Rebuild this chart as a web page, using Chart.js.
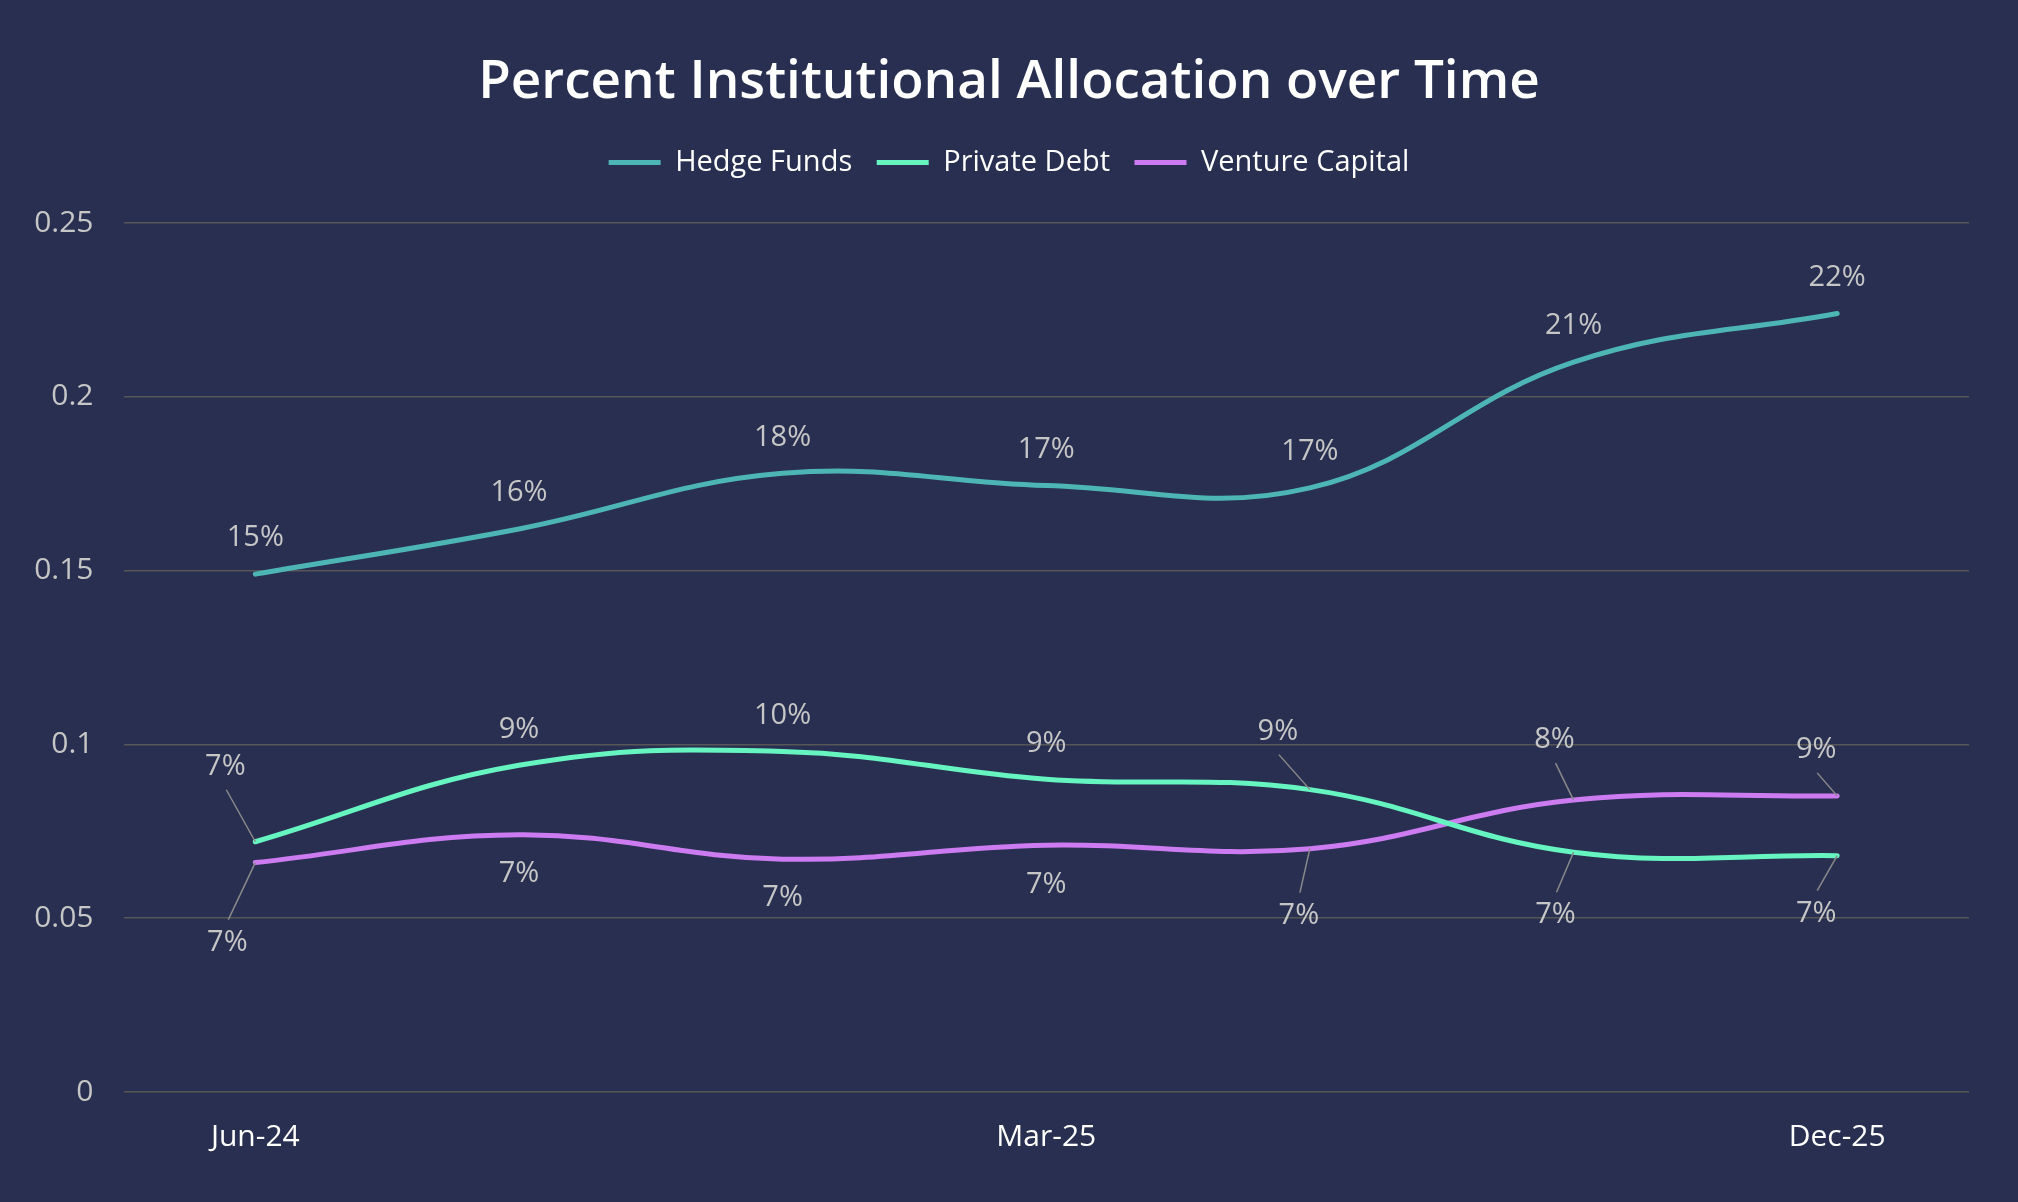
<!DOCTYPE html>
<html>
<head>
<meta charset="utf-8">
<title>Percent Institutional Allocation over Time</title>
<script src="https://cdn.jsdelivr.net/npm/chart.js@4.4.1/dist/chart.umd.min.js"></script>
<style>
	html, body { margin: 0; padding: 0; background: #292f51; }
	#wrap { width: 2018px; height: 1202px; }
</style>
</head>
<body>
<div id="wrap"><canvas id="allocation-chart" width="2018" height="1202"></canvas></div>
<script>
// values
var quarters = ["Jun-24", "Sep-24", "Dec-24", "Mar-25", "Jun-25", "Sep-25", "Dec-25"];
var hedgeFunds = [0.149, 0.162, 0.178, 0.1745, 0.1738, 0.210, 0.224];
var privateDebt = [0.072, 0.094, 0.098, 0.090, 0.087, 0.069, 0.068];
var ventureCapital = [0.066, 0.074, 0.067, 0.071, 0.070, 0.084, 0.0852];
var yTicks = [0, 0.05, 0.1, 0.15, 0.2, 0.25];

// where each value label sits relative to its point: [dx, dy, leader line?]
var labelSpots = [
	[[0, -36], [0, -36], [0, -36], [0, -36], [0, -36], [0, -36], [0, -36]],
	[[-30, -75, 1], [0, -36], [0, -36], [0, -35], [-32, -58, 1], [-18, 63, 1], [-21, 58, 1]],
	[[-28, 80, 1], [0, 39], [0, 39], [0, 40], [-11, 67, 1], [-19, -60, 1], [-21, -46, 1]]
];

var fontName = '"Open Sans", "Segoe UI", sans-serif';

var legendSpacer = {
	id: 'legendSpacer',
	beforeInit: function(chart) {
		var fit = chart.legend.fit;
		chart.legend.fit = function() {
			fit.call(this);
			this.height += 36;
		};
	}
};

var pctLabels = {
	id: 'pctLabels',
	afterDatasetsDraw: function(chart) {
		var ctx = chart.ctx;
		ctx.save();
		ctx.font = '29px ' + fontName;
		ctx.textAlign = 'center';
		ctx.textBaseline = 'middle';
		chart.data.datasets.forEach(function(ds, i) {
			var meta = chart.getDatasetMeta(i);
			meta.data.forEach(function(pt, j) {
				var s = labelSpots[i][j];
				var lx = pt.x + s[0];
				var ly = pt.y + s[1];
				if (s[2]) {
					ctx.strokeStyle = '#8a8a8a';
					ctx.lineWidth = 1.5;
					ctx.beginPath();
					ctx.moveTo(pt.x, pt.y);
					ctx.lineTo(lx + 1, ly - (s[1] < 0 ? -23 : 23));
					ctx.stroke();
				}
				ctx.fillStyle = '#c6c6c6';
				ctx.fillText(Math.round(ds.data[j] * 100) + '%', lx, ly);
			});
		});
		ctx.restore();
	}
};

var ctx = document.getElementById("allocation-chart").getContext('2d');
var allocationChart = new Chart(ctx, {
	type: 'line',
	data: {
		labels: quarters,
		datasets: [{
			label: 'Hedge Funds',
			data: hedgeFunds,
			borderColor: '#4db6b4',
			backgroundColor: '#4db6b4',
			borderWidth: 5
		}, {
			label: 'Private Debt',
			data: privateDebt,
			borderColor: '#66f5c0',
			backgroundColor: '#66f5c0',
			borderWidth: 5
		}, {
			label: 'Venture Capital',
			data: ventureCapital,
			borderColor: '#cc7bf0',
			backgroundColor: '#cc7bf0',
			borderWidth: 5
		}]
	},
	options: {
		responsive: false,
		animation: false,
		layout: {
			padding: { top: 0, left: 30, right: 30, bottom: 20 }
		},
		elements: {
			line: { tension: 0.4, borderCapStyle: 'round', fill: false },
			point: { radius: 0, hoverRadius: 0 }
		},
		plugins: {
			title: {
				display: true,
				text: 'Percent Institutional Allocation over Time',
				color: '#ffffff',
				font: { family: fontName, size: 53, weight: '600' },
				padding: { top: 51, bottom: 9 }
			},
			legend: {
				display: true,
				position: 'top',
				labels: {
					color: '#ffffff',
					font: { family: fontName, size: 29 },
					usePointStyle: true,
					pointStyle: 'line',
					pointStyleWidth: 52,
					padding: 24.5
				}
			},
			tooltip: { enabled: false }
		},
		scales: {
			x: {
				type: 'category',
				offset: true,
				grid: { display: false, drawTicks: false },
				border: { display: false },
				ticks: {
					color: '#ffffff',
					font: { family: fontName, size: 30 },
					padding: 27,
					autoSkip: false,
					maxRotation: 0,
					callback: function(value, index) {
						return index % 3 === 0 ? quarters[index] : '';
					}
				}
			},
			y: {
				min: yTicks[0],
				max: yTicks[yTicks.length - 1],
				afterBuildTicks: function(scale) {
					scale.ticks = yTicks.map(function(v) { return { value: v }; });
				},
				afterFit: function(scale) {
					scale.width = 93.5;
				},
				grid: { color: '#575757', lineWidth: 1.5, drawTicks: false },
				border: { display: false },
				ticks: {
					color: '#c6c6c6',
					font: { family: fontName, size: 30 },
					padding: 30,
					callback: function(value) {
						return String(+value.toFixed(2));
					}
				}
			},
			// empty right margin so title and legend stay centred on the page
			yRight: {
				position: 'right',
				grid: { display: false, drawTicks: false },
				border: { display: false },
				ticks: { display: false },
				afterFit: function(scale) {
					scale.width = 19;
				}
			}
		}
	},
	plugins: [legendSpacer, pctLabels]
});
</script>
</body>
</html>
